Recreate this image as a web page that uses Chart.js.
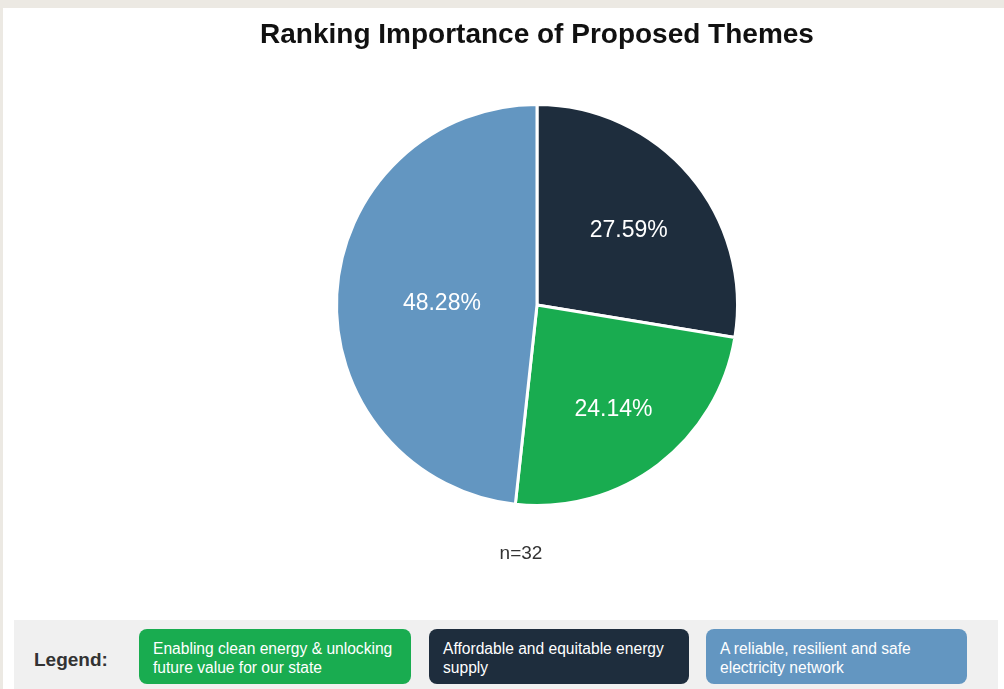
<!DOCTYPE html>
<html>
<head>
<meta charset="utf-8">
<script src="https://cdn.jsdelivr.net/npm/chart.js@4.4.1/dist/chart.umd.min.js"></script>
<style>
  html, body { margin: 0; padding: 0; }
  body { width: 1004px; height: 689px; background: #ECE9E3; position: relative; overflow: hidden; font-family: "Liberation Sans", Arial, sans-serif; }
  #panel { position: absolute; left: 3px; top: 8px; width: 1001px; height: 681px; background: #ffffff; }
  #wrap { position: absolute; left: 0; top: 0; width: 1004px; height: 620px; }
  #legend { position: absolute; left: 14px; top: 620px; width: 984px; height: 69px; background: #F0F0F0; }
  #legend .title { position: absolute; left: 20px; top: 0; height: 80px; line-height: 80px; font-weight: bold; font-size: 19px; color: #333; }
  #legend .item { position: absolute; top: 9px; height: 55px; border-radius: 8px; color: #fff; font-size: 15.6px; line-height: 19px; box-sizing: border-box; padding: 10px 0 0 14px; white-space: nowrap; }
</style>
</head>
<body>
<div id="panel"></div>
<div id="wrap"><canvas id="c" width="1004" height="620"></canvas></div>
<div id="legend"><div class="title">Legend:</div></div>
<script>
// Data (pie order, clockwise from top)
const sliceLabels = ["Affordable and equitable energy supply", "Enabling clean energy & unlocking future value for our state", "A reliable, resilient and safe electricity network"];
const sliceValues = [8, 7, 14];
const sliceColors = ["#1E2D3D", "#19AC50", "#6396C1"];
// Legend order and wrapped lines
const legendOrder = [1, 0, 2];
const legendLines = [
  ["Enabling clean energy & unlocking", "future value for our state"],
  ["Affordable and equitable energy", "supply"],
  ["A reliable, resilient and safe", "electricity network"]
];
const legendLeft = [125, 415, 692];
const legendWidth = [272, 260, 261];
const titleText = "Ranking Importance of Proposed Themes";
const noteText = "n=32";
const labelRadiusFactor = [0.6, 0.63, 0.475];

const total = sliceValues.reduce((a, b) => a + b, 0);

const pctPlugin = {
  id: 'pctLabels',
  afterDatasetsDraw(chart) {
    const ctx = chart.ctx;
    const meta = chart.getDatasetMeta(0);
    ctx.save();
    ctx.fillStyle = '#ffffff';
    ctx.font = '23px "Liberation Sans", Arial, sans-serif';
    ctx.textAlign = 'center';
    ctx.textBaseline = 'middle';
    meta.data.forEach((arc, i) => {
      const p = arc.getProps(['x', 'y', 'startAngle', 'endAngle', 'outerRadius'], true);
      const mid = (p.startAngle + p.endAngle) / 2;
      const r = p.outerRadius * labelRadiusFactor[i];
      const txt = (sliceValues[i] / total * 100).toFixed(2) + '%';
      ctx.fillText(txt, p.x + Math.cos(mid) * r, p.y + Math.sin(mid) * r + 4);
    });
    const ca = chart.chartArea;
    ctx.fillStyle = '#333333';
    ctx.font = '19px "Liberation Sans", Arial, sans-serif';
    ctx.fillText(noteText, (ca.left + ca.right) / 2 - 16, ca.bottom + 47);
    ctx.restore();
  }
};

new Chart(document.getElementById('c'), {
  type: 'pie',
  data: {
    labels: sliceLabels,
    datasets: [{
      data: sliceValues,
      backgroundColor: sliceColors,
      borderColor: '#ffffff',
      borderWidth: 3,
      hoverBorderWidth: 3,
      hoverOffset: 0
    }]
  },
  options: {
    responsive: false,
    animation: false,
    events: [],
    layout: { padding: { left: 70, right: 0, top: 0, bottom: 113 } },
    plugins: {
      legend: { display: false },
      tooltip: { enabled: false },
      title: {
        display: true,
        text: titleText,
        color: '#111111',
        font: { family: '"Liberation Sans", Arial, sans-serif', size: 28, weight: 'bold', lineHeight: 1.2 },
        padding: { top: 18, bottom: 51.4 }
      }
    }
  },
  plugins: [pctPlugin]
});

// HTML legend built from the arrays
const lg = document.getElementById('legend');
legendOrder.forEach((idx, k) => {
  const d = document.createElement('div');
  d.className = 'item';
  d.style.left = legendLeft[k] + 'px';
  d.style.width = legendWidth[k] + 'px';
  d.style.background = sliceColors[idx];
  d.innerHTML = legendLines[k].map(s => s.replace(/&/g, '&amp;')).join('<br>');
  lg.appendChild(d);
});
</script>
</body>
</html>
